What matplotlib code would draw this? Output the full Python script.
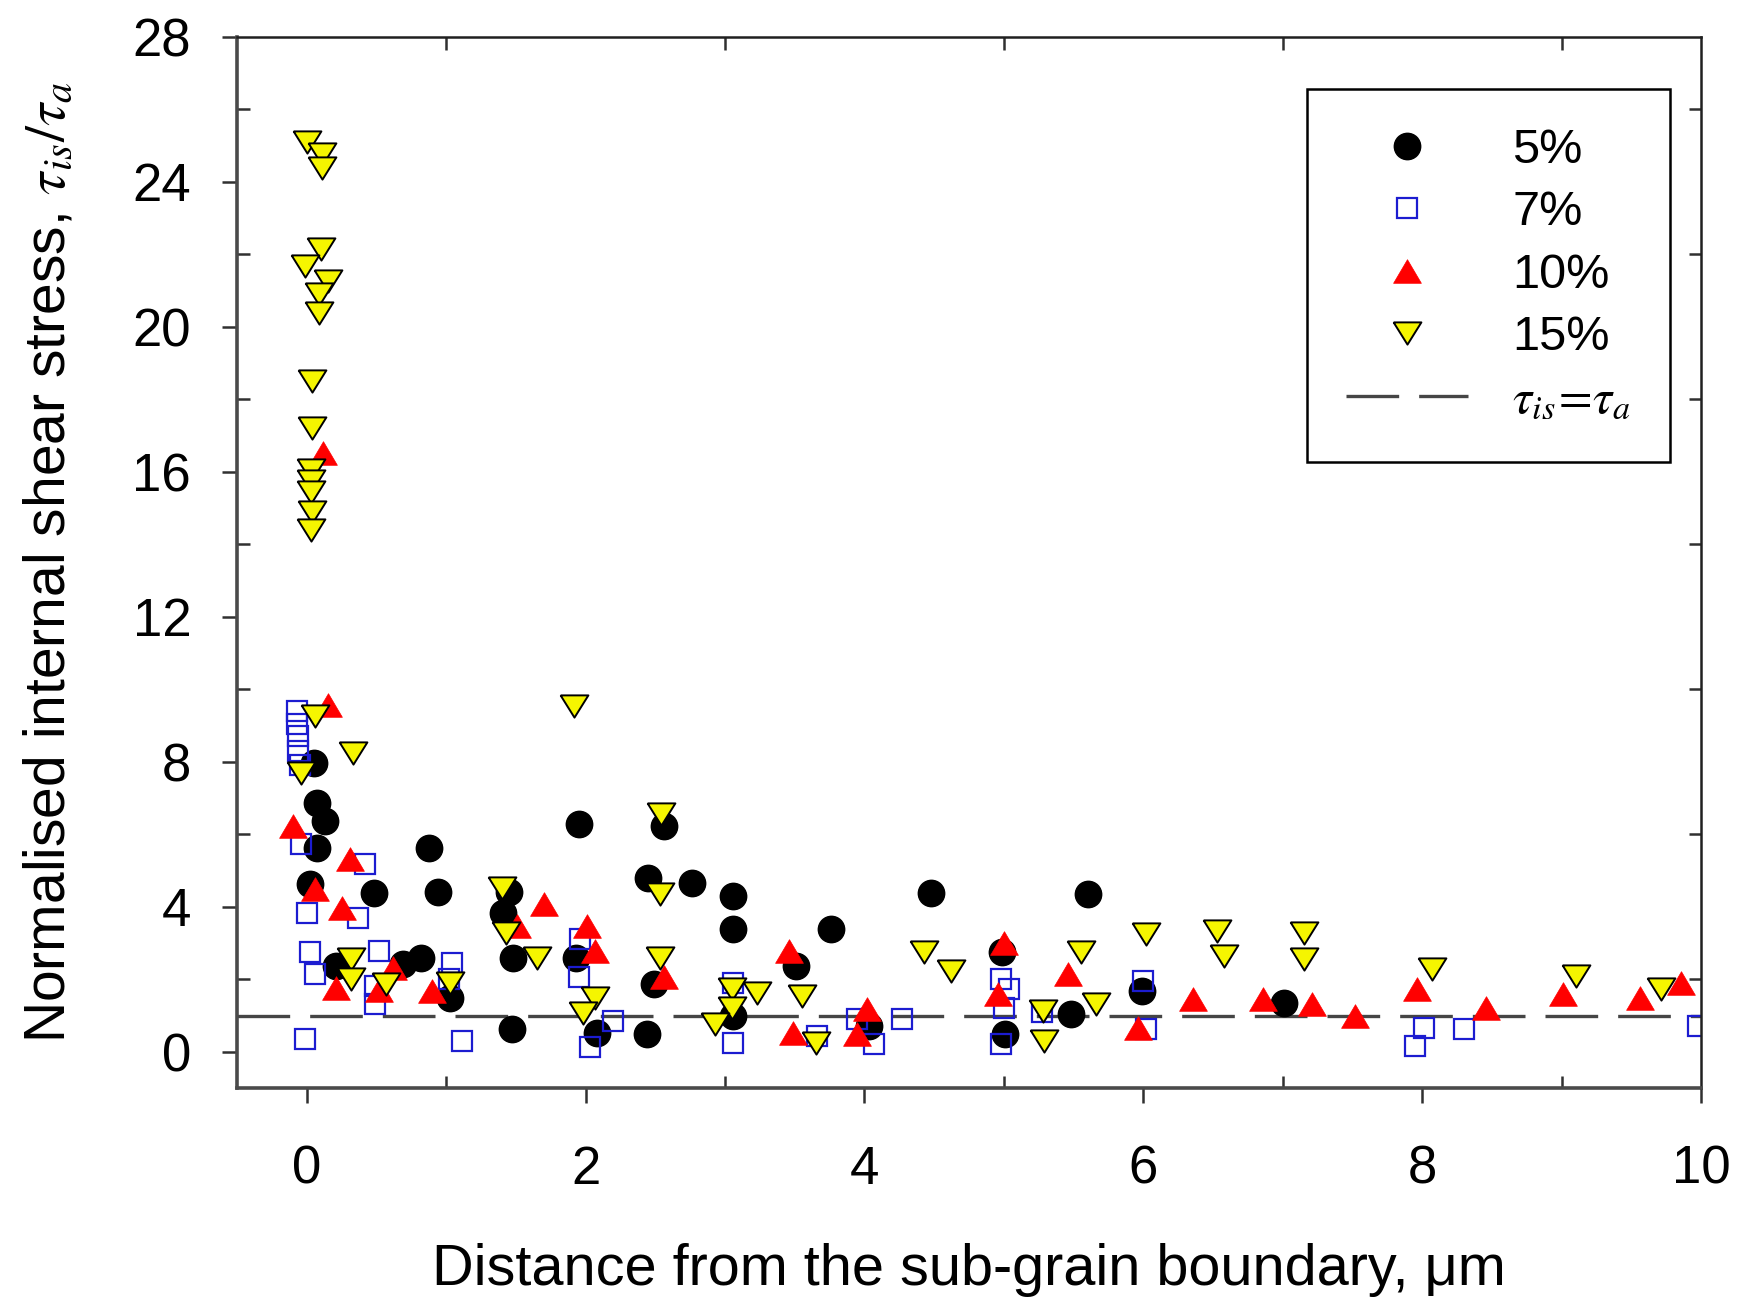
import matplotlib
matplotlib.use("Agg")
import matplotlib.pyplot as plt

plt.rcParams["font.family"] = ["Liberation Sans", "DejaVu Sans"]
plt.rcParams["mathtext.fontset"] = "stix"

# 5% strain - black circles
x5 = [0.05, 0.07, 0.13, 0.07, 0.02, 0.48, 0.88, 0.94, 0.82, 0.69, 0.21, 1.03,
      1.95, 1.47, 1.41, 1.45, 1.48, 1.93, 2.08, 2.56, 2.45, 2.76, 3.06, 3.06,
      3.76, 4.48, 2.49, 2.44, 3.06, 3.51, 4.03, 4.99, 5.01, 5.60, 5.48, 5.99, 7.01]
y5 = [7.98, 6.87, 6.37, 5.63, 4.62, 4.39, 5.63, 4.41, 2.60, 2.41, 2.37, 1.49,
      6.28, 0.62, 3.84, 4.41, 2.60, 2.60, 0.53, 6.23, 4.80, 4.67, 4.30, 3.38,
      3.38, 4.39, 1.86, 0.48, 0.99, 2.37, 0.71, 2.74, 0.48, 4.36, 1.03, 1.68, 1.34]

# 7% strain - open blue squares
x7 = [-0.07, -0.07, -0.06, -0.06, -0.05, -0.04, 0.00, 0.02, 0.06, -0.01, 0.42,
      0.37, 0.52, 0.49, 0.49, 1.04, 1.02, 1.11, 1.96, 1.95, 2.20, 2.03, 3.06,
      3.06, 3.66, 3.95, 4.07, 4.27, 4.98, 5.04, 5.00, 4.98, 5.27, 6.00, 6.02,
      8.01, 7.95, 8.30, 9.98]
y7 = [9.40, 9.05, 8.70, 8.30, 7.90, 5.72, 3.84, 2.74, 2.14, 0.36, 5.17,
      3.70, 2.78, 1.82, 1.31, 2.46, 2.00, 0.30, 3.10, 2.05, 0.85, 0.12, 1.91,
      0.25, 0.44, 0.90, 0.21, 0.90, 2.00, 1.72, 1.20, 0.21, 1.10, 1.95, 0.62,
      0.67, 0.16, 0.62, 0.71]

# 10% strain - red triangles
x10 = [0.15, 0.12, -0.10, 0.31, 0.06, 0.25, 0.21, 0.62, 0.52, 0.90, 1.70, 1.51,
       2.01, 2.07, 2.56, 3.46, 3.49, 4.02, 3.95, 5.00, 4.96, 5.46, 5.96, 6.36,
       6.86, 7.21, 7.52, 7.96, 8.46, 9.01, 9.56, 9.86]
y10 = [9.56, 16.53, 6.23, 5.31, 4.48, 3.98, 1.77, 2.32, 1.70, 1.68, 4.07, 3.47,
       3.47, 2.78, 2.05, 2.78, 0.53, 1.17, 0.48, 3.01, 1.59, 2.14, 0.67, 1.45,
       1.45, 1.31, 0.99, 1.72, 1.22, 1.59, 1.49, 1.91]

# 15% strain - yellow inverted triangles
x15 = [0.00, 0.11, 0.11, 0.10, -0.01, 0.15, 0.09, 0.09, 0.04, 0.04, 0.03, 0.03,
       0.03, 0.04, 0.03, 0.06, 0.33, -0.04, 1.92, 1.40, 1.43, 1.65, 0.32, 0.32,
       0.57, 1.03, 2.07, 1.98, 2.54, 2.53, 2.53, 3.05, 3.05, 2.93, 3.23, 3.55,
       3.65, 4.43, 4.62, 5.28, 5.29, 5.55, 5.66, 6.02, 6.53, 6.58, 7.15, 7.15,
       8.07, 9.10, 9.71]
y15 = [25.09, 24.76, 24.39, 22.14, 21.68, 21.26, 20.90, 20.39, 18.50, 17.22, 16.05, 15.75,
       15.45, 14.90, 14.40, 9.26, 8.25, 7.70, 9.54, 4.53, 3.29, 2.60, 2.55, 2.00,
       1.86, 1.90, 1.49, 1.08, 6.55, 4.34, 2.60, 1.72, 1.22, 0.76, 1.63, 1.54,
       0.25, 2.74, 2.23, 1.13, 0.30, 2.74, 1.31, 3.24, 3.33, 2.64, 3.29, 2.55,
       2.28, 2.09, 1.72]

x_major = [0, 2, 4, 6, 8, 10]
x_minor = [1, 3, 5, 7, 9]
y_major = [0, 4, 8, 12, 16, 20, 24, 28]
y_minor = [2, 6, 10, 14, 18, 22, 26]

# slightly flattened triangles like the original
tri_up = [(-1, -0.85), (1, -0.85), (0, 0.85), (-1, -0.85)]
tri_down = [(-1, 0.8), (1, 0.8), (0, -0.8), (-1, 0.8)]

fig = plt.figure(figsize=(17.43, 13.06), dpi=100)
ax = fig.add_axes([0.1360, 0.1669, 0.8399, 0.8048])

ref, = ax.plot([-0.5, 10], [1, 1], color="#454545", lw=2.4,
               linestyle=(0, (15.8, 6)), zorder=1.5, label=r"$\tau_{is}\!=\!\tau_a$")
h5, = ax.plot(x5, y5, "o", color="black", ms=19, mec="black", ls="none", label="5%")
h7, = ax.plot(x7, y7, "s", mfc="none", mec="#1c1cd0", mew=1.6, ms=15, ls="none", label="7%")
h10, = ax.plot(x10, y10, marker=tri_up, color="#ff0000", mec="#ff0000", mew=0.5, ms=20,
               ls="none", label="10%")
h15, = ax.plot(x15, y15, marker=tri_down, mfc="#f5f500", mec="black", mew=1.4, ms=20,
               ls="none", label="15%")

ax.set_xlim(-0.5, 10)
ax.set_ylim(-1, 28)
ax.set_xticks(x_major)
ax.set_xticks(x_minor, minor=True)
ax.set_yticks(y_major)
ax.set_yticks(y_minor, minor=True)

ax.tick_params(which="major", direction="out", length=11, width=1.8, labelsize=38,
               top=False, right=False, color="#303030")
ax.tick_params(axis="x", which="major", pad=30)
ax.tick_params(axis="y", which="major", pad=22)
ax.tick_params(which="minor", direction="in", length=9, width=1.8,
               top=True, right=True, color="#303030")

for side in ["left", "bottom"]:
    ax.spines[side].set_linewidth(2.6)
    ax.spines[side].set_color("#4a4a4a")
for side in ["top", "right"]:
    ax.spines[side].set_linewidth(1.8)
    ax.spines[side].set_color("#202020")

ax.set_xlabel("Distance from the sub-grain boundary, μm", fontsize=41.5)
ax.set_ylabel(r"Normalised internal shear stress, $\tau_{is}/\tau_a$", fontsize=41)
ax.xaxis.set_label_coords(0.5, -0.173)
ax.xaxis.label.set_va("center")
ax.yaxis.set_label_coords(-0.128, 0.5)
ax.yaxis.label.set_va("center")

leg = ax.legend(handles=[h5, h7, h10, h15, ref], loc="upper right",
                bbox_to_anchor=(0.9581, 0.9319), bbox_transform=fig.transFigure,
                borderaxespad=0, borderpad=0.8, handlelength=2.5, handletextpad=0.92,
                labelspacing=0.36, fontsize=35, fancybox=False, framealpha=1,
                edgecolor="black")
leg.get_frame().set_linewidth(1.8)

plt.savefig("out.png", dpi=100)
plt.close()
